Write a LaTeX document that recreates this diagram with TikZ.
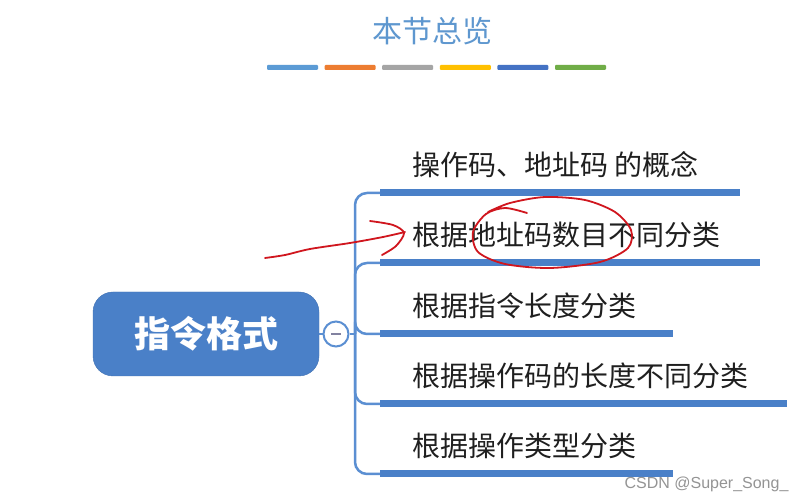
\documentclass[tikz,border=0pt]{standalone}
\usepackage{fontspec}
\setmainfont{Noto Sans CJK SC}
\newfontfamily\wmfont{Liberation Sans}
\usetikzlibrary{positioning, calc}
\definecolor{mapblue}{RGB}{74,128,200}
\definecolor{linkblue}{RGB}{91,143,210}
\definecolor{titleblue}{RGB}{94,151,207}
\definecolor{minusgray}{RGB}{130,130,160}
\definecolor{inkred}{RGB}{208,22,30}
\definecolor{barA}{RGB}{91,155,213}
\definecolor{barB}{RGB}{237,125,49}
\definecolor{barC}{RGB}{165,165,165}
\definecolor{barD}{RGB}{255,192,0}
\definecolor{barE}{RGB}{68,114,196}
\definecolor{barF}{RGB}{112,173,71}

\begin{document}
\begin{tikzpicture}[x=1pt, y=-1pt]
        \useasboundingbox (0,0) rectangle (807,502);
        \fill[white] (0,0) rectangle (807,502);
        \node[text=titleblue, font=\fontsize{30}{30}\selectfont] (title) at (432,31) {本节总览};
        \foreach \k/\c in {0/barA, 1/barB, 2/barC, 3/barD, 4/barE, 5/barF} {
          \pgfmathsetmacro{\x}{267+\k*57.6}
          \fill[\c, rounded corners=1pt] (\x,65) rectangle (\x+51,70);
        }
        \node[fill=mapblue, draw=mapblue!90!black, rounded corners=20pt, minimum width=226pt, minimum height=84pt,
          text=white, font=\fontsize{36}{36}\selectfont\bfseries] (fmt) at (206,334) {指令格式};
        \node[circle, draw=linkblue, line width=2pt, fill=white, minimum size=25pt, inner sep=0pt] (fold) at (336,334) {};
        \draw[minusgray, line width=2pt] ($(fold.center)+(-5,0)$) -- ($(fold.center)+(5,0)$);
        \coordinate (hub) at (355,334);
        \draw[linkblue, line width=2.5pt] (fmt.east) -- (fold.west);
        \draw[linkblue, line width=2.5pt] (fold.east) -- (hub);
        \foreach \n/\y/\w/\t in {
          1/193/360/{操作码、地址码 的概念},
          2/263/380/{根据地址码数目不同分类},
          3/334/293/{根据指令长度分类},
          4/404/407/{根据操作码的长度不同分类},
          5/474/293/{根据操作类型分类}
        } {
          \node[fill=mapblue, minimum width=\w pt, minimum height=7pt, inner sep=0pt, anchor=west] (b\n) at (380,\y) {};
          \draw[linkblue, line width=2.5pt, rounded corners=12pt] (hub) |- (b\n.west);
          \node[anchor=west, text=black!88, font=\fontsize{28}{28}\selectfont] (t\n) at (409,\y-28) {\t};
        }
        \draw[inkred, line width=1.8pt, line cap=round] plot[smooth] coordinates {(265,258) (285,255) (310,249) (350,243) (383,237) (405,232)};
        \draw[inkred, line width=1.8pt, line cap=round] plot[smooth] coordinates {(370,221) (393,225) (404,233) (396,246) (382,255)};
        \draw[inkred, line width=1.8pt, line cap=round] plot[smooth] coordinates {(527,213) (505,208) (486,214) (473,232) (478,252) (505,264) (550,268) (600,262) (628,248) (631,230) (615,212) (585,200) (545,197) (510,203) (488,212)};
        \node[anchor=east, text=black!42, font=\wmfont\fontsize{16}{16}\selectfont] (mark) at (792,484) {CSDN @Super\_Song\_};
      \end{tikzpicture}
\end{document}
